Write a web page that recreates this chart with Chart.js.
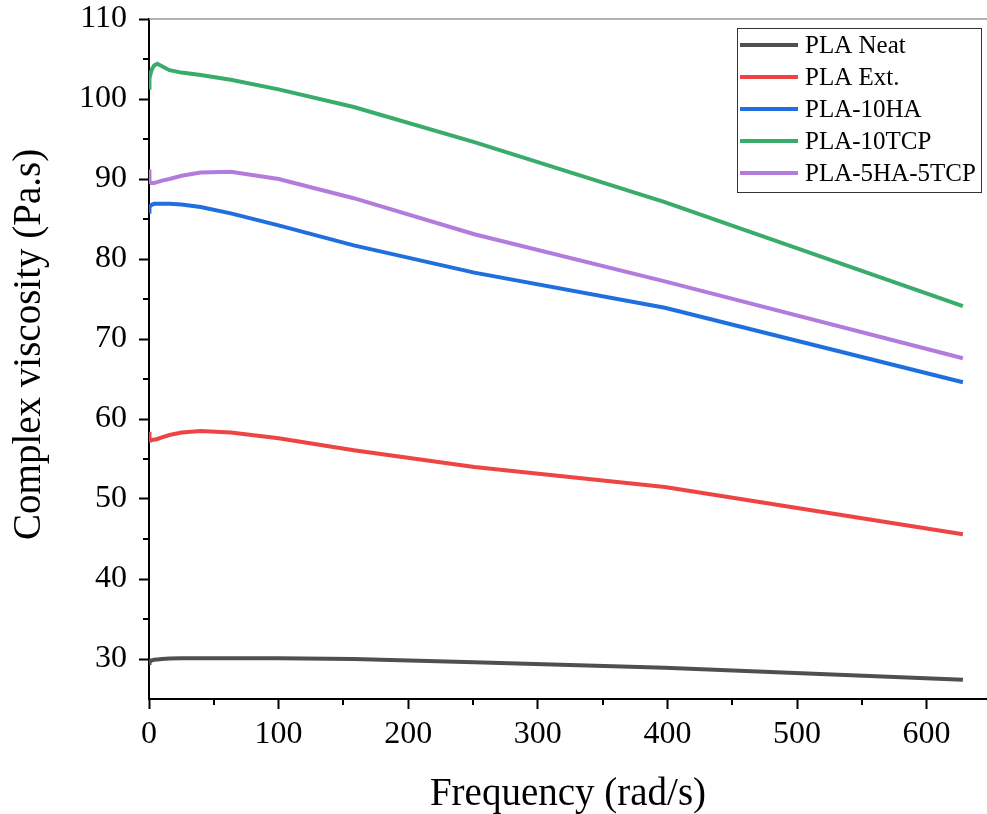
<!DOCTYPE html>
<html>
<head>
<meta charset="utf-8">
<script src="https://cdn.jsdelivr.net/npm/chart.js@4.4.1/dist/chart.umd.min.js"></script>
<style>
    html, body { margin: 0; padding: 0; background: #fff; }
</style>
</head>
<body>
<canvas id="viscosityChart" width="987" height="814"></canvas>
<script>
// frequency sweep points (rad/s)
const frequency = [0.1, 0.158, 0.251, 0.398, 0.631, 1, 1.58, 2.51, 3.98, 6.31, 10, 15.8, 25.1, 39.8, 63.1, 100, 158, 251, 398, 628];

// complex viscosity (Pa.s)
const plaNeat = [29.5, 29.55, 29.6, 29.65, 29.7, 29.7, 29.8, 29.85, 29.9, 29.95, 30.0, 30.05, 30.1, 30.1, 30.1, 30.1, 30.0, 29.6, 28.9, 27.4];
const plaExt = [58.4, 57.8, 57.5, 57.4, 57.3, 57.3, 57.3, 57.4, 57.4, 57.5, 57.7, 58.0, 58.3, 58.5, 58.3, 57.6, 56.1, 54.0, 51.5, 45.6];
const pla10HA = [85.9, 86.1, 86.3, 86.4, 86.5, 86.6, 86.7, 86.8, 86.9, 86.9, 86.9, 86.9, 86.8, 86.5, 85.7, 84.2, 81.7, 78.3, 73.9, 64.6];
const pla10TCP = [101.4, 101.6, 101.9, 102.2, 102.6, 103.0, 103.4, 103.8, 104.2, 104.4, 104.1, 103.6, 103.3, 103.0, 102.4, 101.2, 99.0, 94.6, 87.1, 74.1];
const pla5HA5TCP = [91.2, 90.8, 90.4, 90.0, 89.8, 89.6, 89.5, 89.5, 89.5, 89.6, 89.8, 90.0, 90.4, 90.8, 90.9, 90.0, 87.6, 83.1, 77.2, 67.6];

const seriesNames = ['PLA Neat', 'PLA Ext.', 'PLA-10HA', 'PLA-10TCP', 'PLA-5HA-5TCP'];
const seriesValues = [plaNeat, plaExt, pla10HA, pla10TCP, pla5HA5TCP];
const seriesColors = ['#4f4f4f', '#ef4444', '#1f6fdf', '#3aac6a', '#b27bdc'];

const xTicks = [0, 100, 200, 300, 400, 500, 600];
const xMinorTicks = [50, 150, 250, 350, 450, 550];
const yTicks = [30, 40, 50, 60, 70, 80, 90, 100, 110];
const yMinorTicks = [35, 45, 55, 65, 75, 85, 95, 105];

const FONT = '"Liberation Serif", "Times New Roman", serif';


// minor ticks, top frame line and the boxed legend inside the plot
const decorations = {
    id: 'decorations',
    afterDraw(chart) {
        const ctx = chart.ctx;
        const area = chart.chartArea;
        const xs = chart.scales.x;
        const ys = chart.scales.y;

        ctx.save();
        ctx.strokeStyle = '#000';
        ctx.lineWidth = 2;
        ctx.beginPath();
        xMinorTicks.forEach(v => {
            const px = Math.round(xs.getPixelForValue(v));
            ctx.moveTo(px, area.bottom);
            ctx.lineTo(px, area.bottom + 6);
        });
        yMinorTicks.forEach(v => {
            const py = Math.round(ys.getPixelForValue(v));
            ctx.moveTo(area.left, py);
            ctx.lineTo(area.left - 6, py);
        });
        ctx.stroke();

        ctx.strokeStyle = '#999';
        ctx.lineWidth = 1.5;
        ctx.beginPath();
        ctx.moveTo(area.left, area.top);
        ctx.lineTo(area.right, area.top);
        ctx.stroke();

        // legend
        const boxLeft = area.right - 250;
        const boxTop = area.top + 9;
        const boxW = 244;
        const boxH = 164;
        ctx.fillStyle = '#fff';
        ctx.fillRect(boxLeft, boxTop, boxW, boxH);
        ctx.strokeStyle = '#333';
        ctx.lineWidth = 1;
        ctx.strokeRect(boxLeft + 0.5, boxTop + 0.5, boxW, boxH);

        ctx.font = '25px ' + FONT;
        ctx.textBaseline = 'middle';
        ctx.fillStyle = '#000';
        chart.data.datasets.forEach((ds, i) => {
            const rowY = boxTop + 17 + i * 32;
            ctx.strokeStyle = ds.borderColor;
            ctx.lineWidth = 4;
            ctx.beginPath();
            ctx.moveTo(boxLeft + 3, rowY);
            ctx.lineTo(boxLeft + 61, rowY);
            ctx.stroke();
            ctx.fillText(ds.label, boxLeft + 68, rowY + 1);
        });
        ctx.restore();
    }
};


const ctx = document.getElementById('viscosityChart').getContext('2d');

new Chart(ctx, {
    type: 'line',
    data: {
        datasets: seriesNames.map((name, i) => ({
            label: name,
            data: frequency.map((f, j) => ({ x: f, y: seriesValues[i][j] })),
            borderColor: seriesColors[i],
            backgroundColor: seriesColors[i],
            borderWidth: 4,
            pointRadius: 0,
            tension: 0,
            fill: false
        }))
    },
    options: {
        responsive: false,
        animation: false,
        layout: { padding: { top: 19, right: 0, left: 0, bottom: 0 } },
        plugins: {
            legend: { display: false },
            tooltip: { enabled: false }
        },
        scales: {
            x: {
                type: 'linear',
                min: 0,
                max: 646.6,
                afterBuildTicks: scale => { scale.ticks = xTicks.map(v => ({ value: v })); },
                afterFit: scale => {
                    scale.height = 115;
                    scale.paddingLeft = 0;
                    scale.paddingRight = 0;
                },
                border: { color: '#000', width: 2 },
                grid: {
                    drawOnChartArea: false,
                    drawTicks: true,
                    tickLength: 10,
                    tickWidth: 2,
                    tickColor: '#000'
                },
                ticks: {
                    font: { family: FONT, size: 32 },
                    color: '#000',
                    padding: 6,
                    maxRotation: 0
                },
                title: {
                    display: true,
                    text: 'Frequency (rad/s)',
                    font: { family: FONT, size: 39 },
                    color: '#000',
                    padding: { top: 0, bottom: -4 }
                }
            },
            y: {
                type: 'linear',
                min: 25,
                max: 110,
                afterBuildTicks: scale => { scale.ticks = yTicks.map(v => ({ value: v })); },
                afterFit: scale => {
                    scale.width = 149;
                    scale.paddingTop = 0;
                    scale.paddingBottom = 0;
                },
                border: { color: '#000', width: 2 },
                grid: {
                    drawOnChartArea: false,
                    drawTicks: true,
                    tickLength: 10,
                    tickWidth: 2,
                    tickColor: '#000'
                },
                ticks: {
                    font: { family: FONT, size: 32 },
                    color: '#000',
                    padding: 12
                },
                title: {
                    display: true,
                    // leading spaces lift the rotated title a little, as in the original figure
                    text: '   Complex viscosity (Pa.s)',
                    font: { family: FONT, size: 39 },
                    color: '#000',
                    padding: { top: 6, bottom: 0 }
                }
            }
        }
    },
    plugins: [decorations]
});
</script>
</body>
</html>
